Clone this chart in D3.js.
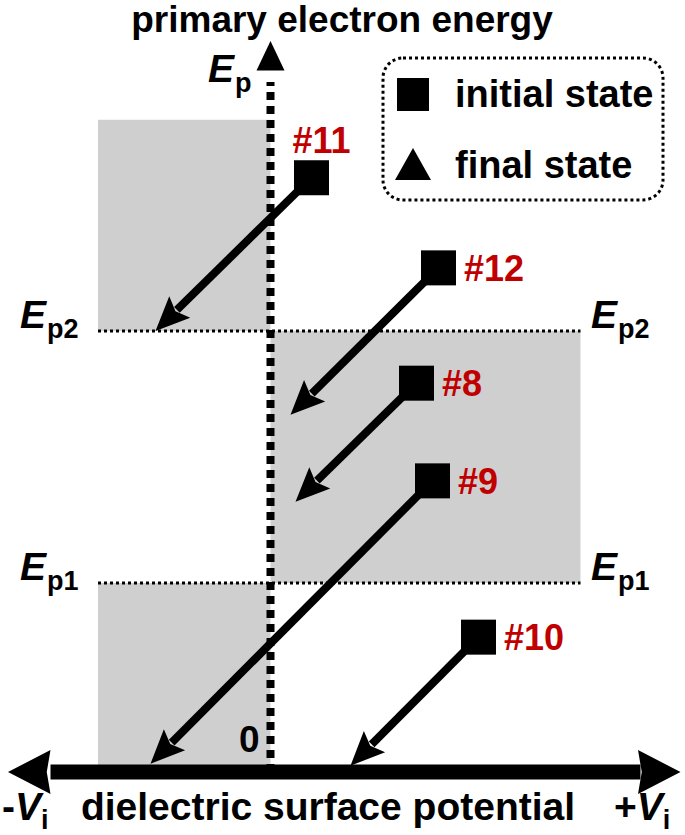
<!DOCTYPE html>
<html>
<head>
<meta charset="utf-8">
<script src="https://cdn.jsdelivr.net/npm/d3@7"></script>
<style>
  body { margin: 0; background: #fff; }
  svg text { font-family: "Liberation Sans", Arial, sans-serif; font-weight: bold; }
</style>
</head>
<body>
<div id="chart"></div>
<script>
// Energy levels (arbitrary units of primary energy)
const levelNames = ['p1', 'p2'];
const levelValues = [3, 7];

// Shaded regions (surface potential range x energy range)
const regionV0 = [-6.9, 0, -6.9];
const regionV1 = [0, 12.4, 0];
const regionE0 = [7, 3, 0];
const regionE1 = [10.35, 7, 3];

// Transitions: initial state -> final state
const caseIds = ['#11', '#12', '#8', '#9', '#10'];
const startV = [1.64, 6.72, 5.84, 6.48, 8.32];
const startE = [9.43, 8.0, 6.17, 4.62, 2.14];
const endV = [-4.6, 0.8, 1.0, -4.8, 3.2];
const endE = [7.0, 5.67, 4.29, 0.13, 0.1];

// Legend entries
const legendLabels = ['initial state', 'final state'];
const legendShapes = ['square', 'triangle'];

const width = 685, height = 835;
const red = '#c00000', grey = '#d0cfcf';

const svg = d3.select('#chart').append('svg')
  .attr('width', width)
  .attr('height', height);

const x = d3.scaleLinear().domain([-10.5, 16.5]).range([8, 683]);
const y = d3.scaleLinear().domain([0, 11.6]).range([772, 41]);

// shaded regions
svg.append('g').selectAll('rect')
  .data(regionV0.map((v, i) => ({ v0: v, v1: regionV1[i], e0: regionE0[i], e1: regionE1[i] })))
  .join('rect')
    .attr('x', d => x(d.v0))
    .attr('y', d => y(d.e1))
    .attr('width', d => x(d.v1) - x(d.v0))
    .attr('height', d => y(d.e0) - y(d.e1))
    .attr('fill', grey);

// energy level dotted lines
const levels = levelNames.map((n, i) => ({ name: n, e: levelValues[i] }));
svg.append('g').selectAll('line')
  .data(levels)
  .join('line')
    .attr('x1', x(-6.9))
    .attr('x2', x(12.4))
    .attr('y1', d => y(d.e))
    .attr('y2', d => y(d.e))
    .attr('stroke', '#000')
    .attr('stroke-width', 3)
    .attr('stroke-dasharray', '3,3');

// level labels on both sides
function eLabel(g, px, py, sub) {
  const t = g.append('text').attr('x', px).attr('y', py).attr('font-size', 39);
  t.append('tspan').attr('font-style', 'italic').text('E');
  t.append('tspan').attr('dx', 1).attr('dy', 10).attr('font-size', 27).text(sub);
  return t;
}
const lab = svg.append('g');
levels.forEach(d => {
  eLabel(lab, 20, y(d.e) - 3, d.name);
  eLabel(lab, 591, y(d.e) - 3, d.name);
});
eLabel(lab, 208, 82, 'p');

// x axis (thick, two-headed)
const ax = svg.append('g');
const y0 = y(0);
ax.append('line')
  .attr('x1', x(-8.8)).attr('x2', x(14.8))
  .attr('y1', y0).attr('y2', y0)
  .attr('stroke', '#000').attr('stroke-width', 15);
ax.append('path')
  .attr('d', `M${x(-10.5)},${y0} L${x(-8.8)},${y0 - 22} L${x(-8.95)},${y0} L${x(-8.8)},${y0 + 22} Z`)
  .attr('fill', '#000');
ax.append('path')
  .attr('d', `M${x(16.4)},${y0} L${x(14.7)},${y0 - 22} L${x(14.85)},${y0} L${x(14.7)},${y0 + 22} Z`)
  .attr('fill', '#000');

// y axis (dotted, arrow on top)
const x0 = x(0);
ax.append('line')
  .attr('x1', x0).attr('x2', x0)
  .attr('y1', y0).attr('y2', y(10.95))
  .attr('stroke', '#000').attr('stroke-width', 8)
  .attr('stroke-dasharray', '8,6');
ax.append('path')
  .attr('d', `M${x0},${y(11.6)} L${x0 - 14},${y(11.13)} L${x0 + 14},${y(11.13)} Z`)
  .attr('fill', '#000');

ax.append('text')
  .attr('x', x0 - 11).attr('y', y0 - 20)
  .attr('text-anchor', 'end').attr('font-size', 37)
  .text('0');

// axis titles
svg.append('text')
  .attr('x', 342).attr('y', 32)
  .attr('text-anchor', 'middle').attr('font-size', 37)
  .text('primary electron energy');
svg.append('text')
  .attr('x', 328).attr('y', 820)
  .attr('text-anchor', 'middle').attr('font-size', 39)
  .text('dielectric surface potential');

function vLabel(px, sign) {
  const t = svg.append('text').attr('x', px).attr('y', 820).attr('font-size', 39);
  t.append('tspan').text(sign);
  t.append('tspan').attr('font-style', 'italic').text('V');
  t.append('tspan').attr('dy', 9).attr('font-size', 27).text('i');
}
vLabel(2, '-');
vLabel(614, '+');

// transitions
const trans = caseIds.map((id, i) => ({
  id, v0: startV[i], e0: startE[i], v1: endV[i], e1: endE[i]
}));

const headLen = 34, headHalf = 15, sq = 35;
const tg = svg.append('g');
trans.forEach(d => {
  const sx = x(d.v0), sy = y(d.e0), ex = x(d.v1), ey = y(d.e1);
  const dx = ex - sx, dy = ey - sy, len = Math.hypot(dx, dy);
  const ux = dx / len, uy = dy / len;
  const bx = ex - ux * headLen, by = ey - uy * headLen;
  tg.append('line')
    .attr('x1', sx).attr('y1', sy)
    .attr('x2', bx + ux * 4).attr('y2', by + uy * 4)
    .attr('stroke', '#000').attr('stroke-width', 8);
  tg.append('path')
    .attr('d', `M${ex},${ey} L${bx - uy * headHalf},${by + ux * headHalf} L${bx + ux * 6},${by + uy * 6} L${bx + uy * headHalf},${by - ux * headHalf} Z`)
    .attr('fill', '#000');
  tg.append('rect')
    .attr('x', sx - sq / 2).attr('y', sy - sq / 2)
    .attr('width', sq).attr('height', sq)
    .attr('fill', '#000');
  const above = d.id === '#11';
  tg.append('text')
    .attr('x', above ? sx - 19 : sx + sq / 2 + 8)
    .attr('y', above ? sy - 25 : sy + 13)
    .attr('font-size', 36)
    .attr('fill', red)
    .text(d.id);
});

// legend
const lg = svg.append('g').attr('transform', 'translate(383,58)');
lg.append('rect')
  .attr('width', 280).attr('height', 142)
  .attr('rx', 20)
  .attr('fill', 'none')
  .attr('stroke', '#000').attr('stroke-width', 3)
  .attr('stroke-dasharray', '3,3');
legendLabels.forEach((t, i) => {
  const cy = 36 + i * 71;
  if (legendShapes[i] === 'square') {
    lg.append('rect').attr('x', 14).attr('y', cy - 16).attr('width', 32).attr('height', 33).attr('fill', '#000');
  } else {
    lg.append('path').attr('d', `M30,${cy - 17} L48,${cy + 15} L12,${cy + 15} Z`).attr('fill', '#000');
  }
  lg.append('text')
    .attr('x', 72).attr('y', cy + 13)
    .attr('font-size', 38)
    .text(t);
});
</script>
</body>
</html>
